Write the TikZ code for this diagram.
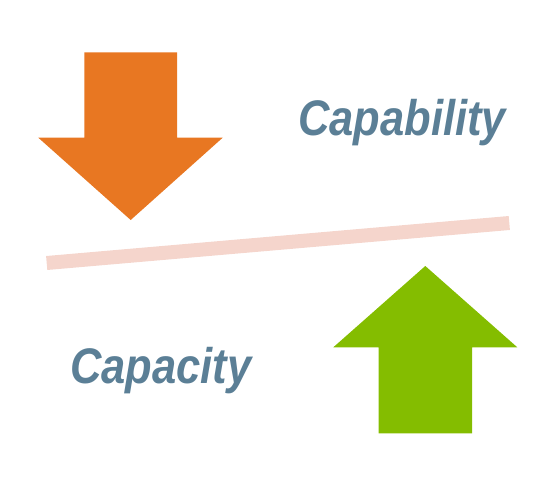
\documentclass[tikz,border=0pt]{standalone}
\usepackage{fontspec}
\setmainfont{Liberation Sans}
\definecolor{arrorange}{HTML}{E87722}
\definecolor{arrgreen}{HTML}{84BD00}
\definecolor{barpink}{HTML}{F5D5CC}
\definecolor{txtblue}{HTML}{5B7F96}
\begin{document}
\begin{tikzpicture}[x=1pt,y=-1pt,
  lbl/.style={anchor=base west,inner sep=0pt,text=txtblue,font=\fontsize{50}{54}\selectfont\bfseries\itshape,xscale=0.87,transform shape}]
\useasboundingbox (0,0) rectangle (554,495);
% down arrow
\fill[arrorange] (84.3,52.3) -- (177,52.3) -- (177,137.7) -- (222.7,137.7) -- (130.7,220) -- (38.3,137.7) -- (84.3,137.7) -- cycle;
% up arrow
\fill[arrgreen] (425.3,266) -- (517.3,347.3) -- (472,347.3) -- (472,433.3) -- (378.7,433.3) -- (378.7,347.3) -- (333.3,347.3) -- cycle;
% bar
\coordinate (bl) at (46.7,263);
\coordinate (br) at (509.3,223);
\draw[barpink,line width=14pt] (bl) -- (br);
\node[lbl] (cap) at (298,135) {Capability};
\node[lbl] (cty) at (70,383) {Capacity};
\end{tikzpicture}
\end{document}
